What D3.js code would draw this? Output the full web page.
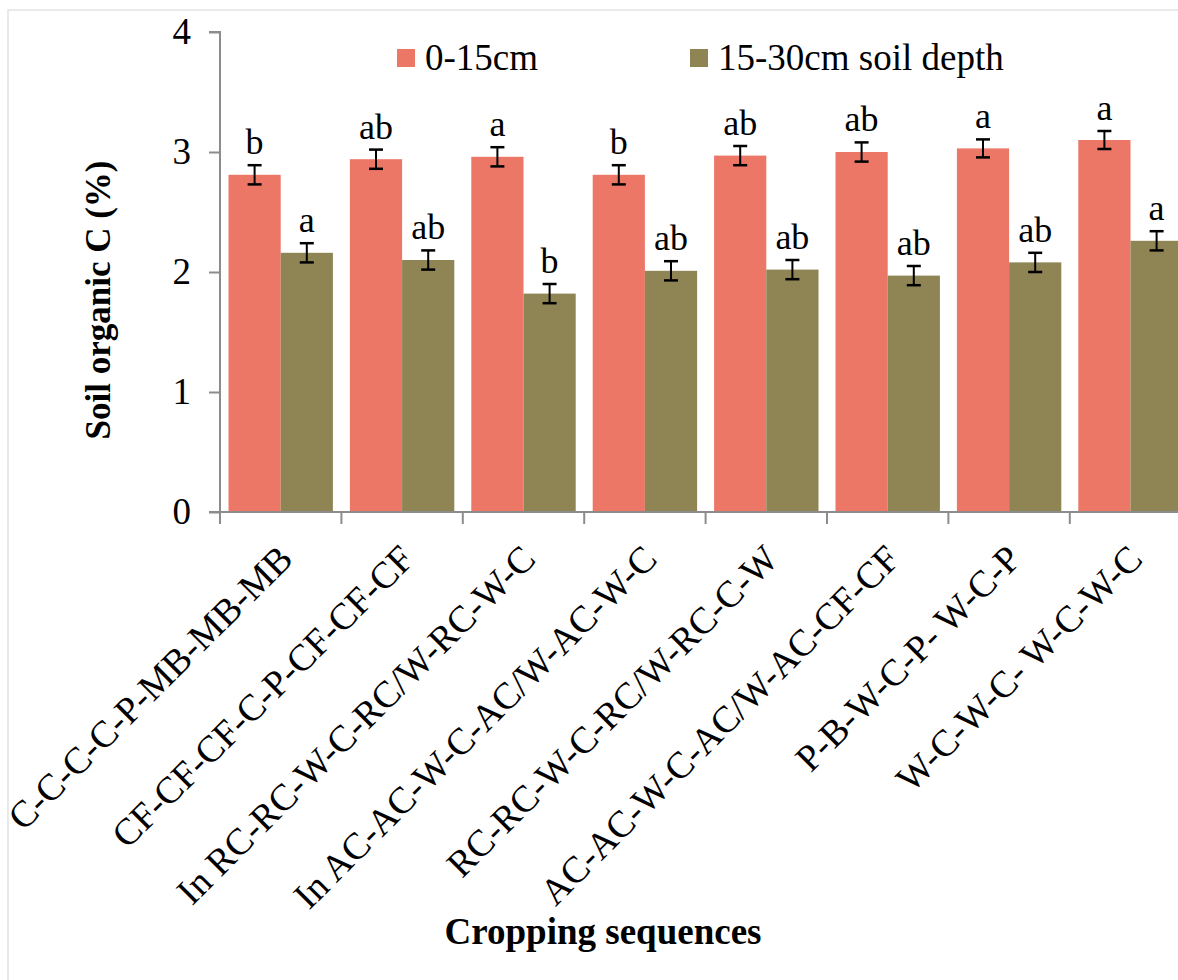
<!DOCTYPE html>
<html>
<head>
<meta charset="utf-8">
<script src="https://cdn.jsdelivr.net/npm/d3@7"></script>
<style>
  body { margin: 0; background: #fff; }
  svg { display: block; font-family: "Liberation Serif", "Times New Roman", serif; }
</style>
</head>
<body>
<script>
// chart data
const sequences = [
  "C-C-C-C-P-MB-MB-MB",
  "CF-CF-CF-C-P-CF-CF-CF",
  "In RC-RC-W-C-RC/W-RC-W-C",
  "In AC-AC-W-C-AC/W-AC-W-C",
  "RC-RC-W-C-RC/W-RC-C-W",
  "AC-AC-W-C-AC/W-AC-CF-CF",
  "P-B-W-C-P- W-C-P",
  "W-C-W-C- W-C-W-C"
];
const depths = ["0-15cm", "15-30cm soil depth"];
const topSoil = [2.81, 2.94, 2.96, 2.81, 2.97, 3.00, 3.03, 3.10];
const subSoil = [2.16, 2.10, 1.82, 2.01, 2.02, 1.97, 2.08, 2.26];
const topErr = [0.08, 0.08, 0.08, 0.08, 0.08, 0.08, 0.075, 0.075];
const subErr = [0.08, 0.08, 0.08, 0.08, 0.08, 0.08, 0.08, 0.08];
const topLetters = ["b", "ab", "a", "b", "ab", "ab", "a", "a"];
const subLetters = ["a", "ab", "b", "ab", "ab", "ab", "ab", "a"];
const yTicks = [0, 1, 2, 3, 4];

const width = 1178;
const height = 980;
const colors = ["#ec7767", "#8e8454"];
const axisColor = "#8c8c8c";

const svg = d3.select("body").append("svg")
  .attr("width", width)
  .attr("height", height);

//light chart border
svg.append("rect")
  .attr("x", 8).attr("y", 10)
  .attr("width", 1300).attr("height", 1100)
  .attr("fill", "none")
  .attr("stroke", "#e4e4e4")
  .attr("stroke-width", 1.5);

//Scales
const plotLeft = 220, step = 121.4, plotBottom = 512, plotTop = 32;
const x0 = d3.scaleBand()
  .domain(sequences)
  .range([plotLeft, plotLeft + step * sequences.length])
  .paddingInner(0.14)
  .paddingOuter(0.07);
const x1 = d3.scaleBand()
  .domain(depths)
  .range([0, x0.bandwidth()]);
const y = d3.scaleLinear().domain([0, 4]).range([plotBottom, plotTop]);

const rows = sequences.map((s, i) => ({
  seq: s,
  vals: [
    { key: depths[0], v: topSoil[i], e: topErr[i], l: topLetters[i] },
    { key: depths[1], v: subSoil[i], e: subErr[i], l: subLetters[i] }
  ]
}));

//Bars
const groups = svg.selectAll(".grp")
  .data(rows)
  .enter()
  .append("g")
  .attr("class", "grp")
  .attr("transform", (d) => "translate(" + x0(d.seq) + ",0)");

groups.selectAll("rect")
  .data((d) => d.vals)
  .enter()
  .append("rect")
  .attr("x", (d) => x1(d.key))
  .attr("y", (d) => y(d.v))
  .attr("width", x1.bandwidth())
  .attr("height", (d) => y(0) - y(d.v))
  .attr("fill", (d, i) => colors[i]);

//Error bars
const err = groups.selectAll(".err")
  .data((d) => d.vals)
  .enter()
  .append("g")
  .attr("class", "err")
  .attr("stroke", "#000");
const cx = (d) => x1(d.key) + x1.bandwidth() / 2;
err.append("line")
  .attr("x1", cx).attr("x2", cx)
  .attr("y1", (d) => y(d.v + d.e))
  .attr("y2", (d) => y(d.v - d.e))
  .attr("stroke-width", 2);
[1, -1].forEach((sgn) => {
  err.append("line")
    .attr("x1", (d) => cx(d) - 7).attr("x2", (d) => cx(d) + 7)
    .attr("y1", (d) => y(d.v + sgn * d.e))
    .attr("y2", (d) => y(d.v + sgn * d.e))
    .attr("stroke-width", 2.5);
});

//Significance letters
groups.selectAll(".lbl")
  .data((d) => d.vals)
  .enter()
  .append("text")
  .attr("class", "lbl")
  .attr("x", cx)
  .attr("y", (d) => y(d.v + d.e) - 11)
  .attr("text-anchor", "middle")
  .attr("font-size", 36)
  .text((d) => d.l);

//Axes
const yAxis = d3.axisLeft(y).tickValues(yTicks).tickFormat(d3.format("d"))
  .tickSize(11).tickPadding(18);
const gy = svg.append("g")
  .attr("transform", "translate(" + plotLeft + ",0)")
  .call(yAxis);
gy.select(".domain").attr("stroke", axisColor).attr("stroke-width", 2)
  .attr("d", "M-11," + plotTop + "H0V" + plotBottom + "H-11");
gy.selectAll(".tick line").attr("stroke", axisColor).attr("stroke-width", 2);
gy.selectAll(".tick text")
  .attr("font-size", 37)
  .attr("font-family", "Liberation Serif")
  .attr("fill", "#000")
  .attr("dy", "0.3em");

const catEdges = d3.range(sequences.length + 1).map((i) => plotLeft + i * step);
const gx = svg.append("g");
gx.append("line")
  .attr("x1", plotLeft).attr("x2", plotLeft + step * sequences.length)
  .attr("y1", plotBottom).attr("y2", plotBottom)
  .attr("stroke", axisColor).attr("stroke-width", 2);
gx.selectAll(".xt")
  .data(catEdges)
  .enter()
  .append("line")
  .attr("x1", (d) => d).attr("x2", (d) => d)
  .attr("y1", plotBottom).attr("y2", plotBottom + 12)
  .attr("stroke", axisColor).attr("stroke-width", 2);

gx.selectAll(".cat")
  .data(sequences)
  .enter()
  .append("text")
  .attr("text-anchor", "end")
  .attr("font-size", 37.5)
  .attr("transform", (d) => "translate(" + (x0(d) + x0.bandwidth() / 2 + 14) + ",561) rotate(-45)")
  .text((d) => d);

//Axis titles
svg.append("text")
  .attr("transform", "translate(110,300) rotate(-90)")
  .attr("text-anchor", "middle")
  .attr("font-size", 35)
  .attr("font-weight", "bold")
  .text("Soil organic C (%)");

svg.append("text")
  .attr("x", 603).attr("y", 944)
  .attr("text-anchor", "middle")
  .attr("font-size", 37)
  .attr("font-weight", "bold")
  .text("Cropping sequences");

//Legend
const legendX = [397, 690];
const legend = svg.selectAll(".leg")
  .data(depths)
  .enter()
  .append("g")
  .attr("transform", (d, i) => "translate(" + legendX[i] + ",49)");
legend.append("rect")
  .attr("width", 18).attr("height", 18)
  .attr("fill", (d, i) => colors[i]);
legend.append("text")
  .attr("x", 28).attr("y", 21)
  .attr("font-size", 37)
  .text((d) => d);
</script>
</body>
</html>
